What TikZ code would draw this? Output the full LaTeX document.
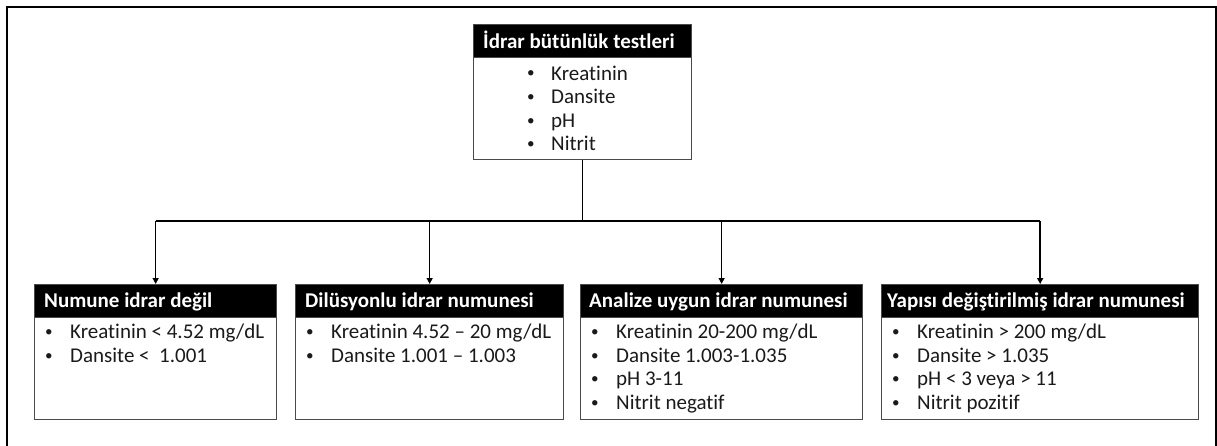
\documentclass[tikz,border=0pt]{standalone}
\usepackage{fontspec}
\setmainfont{Carlito}[Ligatures=NoCommon]
\usetikzlibrary{arrows.meta}
\definecolor{boxgray}{HTML}{4A4A4A}
\definecolor{txt}{HTML}{1A1A1A}
\newcommand{\smallbul}{\hspace*{1pt}\raisebox{0.1em}{\scalebox{0.72}{\textbullet}}}
\newcommand{\bulitem}{\makebox[26pt][l]{\smallbul}}
\newcommand{\bulitemt}{\makebox[25pt][l]{\smallbul}}
\begin{document}
\begin{tikzpicture}[x=1pt,y=-1pt,
  boxline/.style={draw=boxgray, line width=1.3pt},
  hdrbox/.style={boxline, fill=black, anchor=north west, minimum height=33pt, inner sep=0pt},
  bodybox/.style={boxline, fill=white, anchor=north west, minimum height=102pt, inner sep=0pt},
  hdrtext/.style={text=white, font=\bfseries\fontsize{21}{25}\selectfont, anchor=base west, inner sep=0pt},
  item/.style={text=txt, font=\fontsize{21}{24}\selectfont, anchor=base west, inner sep=0pt},
  conn/.style={line width=1.4pt, draw=black},
  arr/.style={conn, -{Triangle[length=6pt,width=6pt]}}
]
\useasboundingbox (0,0) rectangle (1217,445);
% outer frame (open at bottom)
\draw[line width=2pt] (7,460) -- (7,7) -- (1216,7) -- (1216,460);

% top box
\node[bodybox, minimum width=218pt] (b0) at (473,57) {};
\node[hdrbox, minimum width=218pt] (h0) at (473,24) {};
\node[hdrtext] (h0t) at (483,48) {İdrar bütünlük testleri};
\node[item] (b0l1) at (526,80) {\bulitemt Kreatinin};
\node[item] (b0l2) at (526,103.6) {\bulitemt Dansite};
\node[item] (b0l3) at (526,127.2) {\bulitemt pH};
\node[item] (b0l4) at (526,150.8) {\bulitemt Nitrit};

% bottom boxes
\node[bodybox, minimum width=242pt] (b1) at (34,317) {};
\node[hdrbox, minimum width=242pt] (h1) at (34,284) {};
\node[hdrtext] (h1t) at (44,307) {Numune idrar değil};
\node[item] (b1l1) at (44,338.5) {\bulitem Kreatinin < 4.52 mg/dL};
\node[item] (b1l2) at (44,362.1) {\bulitem Dansite <\ \ 1.001};

\node[bodybox, minimum width=268pt] (b2) at (295,317) {};
\node[hdrbox, minimum width=268pt] (h2) at (295,284) {};
\node[hdrtext] (h2t) at (305,307) {Dilüsyonlu idrar numunesi};
\node[item] (b2l1) at (305,338.5) {\bulitem Kreatinin 4.52 – 20 mg/dL};
\node[item] (b2l2) at (305,362.1) {\bulitem Dansite 1.001 – 1.003};

\node[bodybox, minimum width=282pt] (b3) at (580,317) {};
\node[hdrbox, minimum width=282pt] (h3) at (580,284) {};
\node[hdrtext] (h3t) at (589,307) {Analize uygun idrar numunesi};
\node[item] (b3l1) at (590,338.5) {\bulitem Kreatinin 20-200 mg/dL};
\node[item] (b3l2) at (590,362.1) {\bulitem Dansite 1.003-1.035};
\node[item] (b3l3) at (590,385.7) {\bulitem pH 3-11};
\node[item] (b3l4) at (590,409.3) {\bulitem Nitrit negatif};

\node[bodybox, minimum width=317pt] (b4) at (881,317) {};
\node[hdrbox, minimum width=317pt] (h4) at (881,284) {};
\node[hdrtext] (h4t) at (887,307) {Yapısı değiştirilmiş idrar numunesi};
\node[item] (b4l1) at (891,338.5) {\bulitem Kreatinin > 200 mg/dL};
\node[item] (b4l2) at (891,362.1) {\bulitem Dansite > 1.035};
\node[item] (b4l3) at (891,385.7) {\bulitem pH < 3 veya > 11};
\node[item] (b4l4) at (891,409.3) {\bulitem Nitrit pozitif};

% connectors
\coordinate (bar) at (583,221);
\draw[conn] (b0.south) -- (b0.south |- bar);
\draw[conn] (h1.north |- bar) -- (h4.north |- bar);
\foreach \i in {1,2,3,4}
  \draw[arr] (h\i.north |- bar) -- (h\i.north);
\end{tikzpicture}
\end{document}
